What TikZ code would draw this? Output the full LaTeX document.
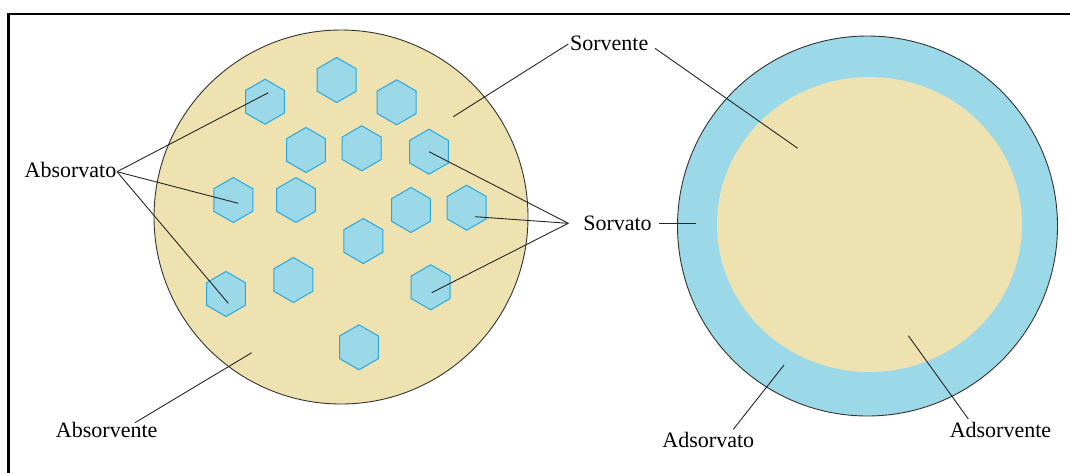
\documentclass[tikz,border=0pt]{standalone}
\usepackage{fontspec}
\setmainfont{Liberation Serif}
\usetikzlibrary{shapes.geometric}
\definecolor{sand}{RGB}{238,226,176}
\definecolor{water}{RGB}{155,216,232}
\definecolor{waterline}{RGB}{41,168,224}
\tikzset{
  lbl/.style={inner sep=0pt, font=\fontsize{22}{26}\selectfont},
  leader/.style={draw=black!85, line width=0.9pt},
  grain/.style={draw=black!80, line width=0.9pt},
  cell/.style={regular polygon, regular polygon sides=6, shape border rotate=30,
    minimum size=45pt, inner sep=0pt, fill=water, draw=waterline, line width=1pt},
}
\begin{document}
\begin{tikzpicture}[x=1pt,y=-1pt]
\useasboundingbox (0,0) rectangle (1070,472);
% outer frame (top and left edges)
\draw[line width=2.4pt] (8.5,480) -- (8.5,14) -- (1080,14);

% absorption grain with dispersed cells
\node[grain, circle, fill=sand, minimum size=374pt, inner sep=0pt] (grainA) at (341,217) {};
\foreach \n/\px/\py in {1/265/101.7, 2/336.7/80, 3/396.7/102.3, 4/306/150,
    5/361.7/148.3, 6/429/151.7, 7/233.3/200, 8/296/200, 9/411/210,
    10/466.7/207.7, 11/363.3/241, 12/293.3/280, 13/226/294, 14/430.7/287.3,
    15/359/347.3}
  \node[cell] (h\n) at (\px,\py) {};

% adsorption grain: coated shell around a core
\node[grain, circle, fill=water, minimum size=380pt, inner sep=0pt] (grainB) at (867.5,226) {};
\fill[sand] (869.5,224.5) ellipse [x radius=152.5, y radius=147.5];
\coordinate (core) at (869.5,224.5);

% labels
\node[lbl] (absorvato) at (70.5,170) {Absorvato};
\node[lbl] (sorvente) at (609.2,43) {Sorvente};
\node[lbl] (sorvato) at (617.5,223) {Sorvato};
\node[lbl] (absorvente) at (106.7,430) {Absorvente};
\node[lbl] (adsorvato) at (708.3,439.5) {Adsorvato};
\node[lbl] (adsorvente) at (1000.5,430) {Adsorvente};

% leader end points
\coordinate (absA) at (117,171.7);
\coordinate (sorA) at (568.3,223.3);
\coordinate (t1) at (268.3,92.7);
\coordinate (t7) at (238.3,203.3);
\coordinate (t13) at (228.3,303.3);
\coordinate (t6) at (429,151.7);
\coordinate (t10) at (475,216.7);
\coordinate (t14) at (431.7,292.7);
\coordinate (svL) at (568.3,44);
\coordinate (svR) at (655,48.3);
\coordinate (svA) at (453.3,116.7);
\coordinate (svB) at (797.7,148.3);
\coordinate (sdR0) at (659.3,223);
\coordinate (sdR1) at (696,223);
\coordinate (abv0) at (135,422.7);
\coordinate (abv1) at (251.7,352.7);
\coordinate (adt0) at (733.3,429.3);
\coordinate (adt1) at (784,365);
\coordinate (adv0) at (968.3,419);
\coordinate (adv1) at (908.3,335.7);

% leaders
\draw[leader] (absA) -- (t1);
\draw[leader] (absA) -- (t7);
\draw[leader] (absA) -- (t13);
\draw[leader] (sorA) -- (t6);
\draw[leader] (sorA) -- (t10);
\draw[leader] (sorA) -- (t14);
\draw[leader] (svL) -- (svA);
\draw[leader] (svR) -- (svB);
\draw[leader] (sdR0) -- (sdR1);
\draw[leader] (abv0) -- (abv1);
\draw[leader] (adt0) -- (adt1);
\draw[leader] (adv0) -- (adv1);
\end{tikzpicture}
\end{document}
